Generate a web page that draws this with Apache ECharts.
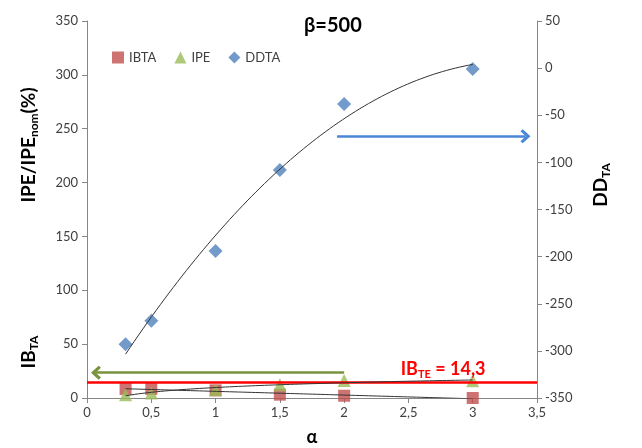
<!DOCTYPE html>
<html>
<head>
<meta charset="utf-8">
<script src="https://cdn.jsdelivr.net/npm/echarts@6/dist/echarts.min.js"></script>
<style>
  html, body { margin: 0; padding: 0; background: #fff; }
  #chart { width: 642px; height: 448px; }
</style>
</head>
<body>
<div id="chart"></div>
<script>
// data
const alpha = [0.3, 0.5, 1, 1.5, 2, 3];
const ibta = [8.4, 8.4, 7.1, 3.1, 2.1, 0];
const ipe = [3.1, 4.6, 7.7, 12.4, 16.3, 16.1];
const ddta = [-293, -268, -194, -108, -38, -1];
const ibte = 14.3;
const xTicks = [0, 0.5, 1, 1.5, 2, 2.5, 3, 3.5];

const FONT = "Lato, 'Open Sans', sans-serif";
const colors = ["#C0504D", "#9BBB59", "#4F81BD"];

// excel-like trendlines, fitted from the data above
function linFit(xs, ys) {
  const n = xs.length;
  const mx = xs.reduce((a, b) => a + b, 0) / n;
  const my = ys.reduce((a, b) => a + b, 0) / n;
  let sxy = 0, sxx = 0;
  for (let i = 0; i < n; i++) {
    sxy += (xs[i] - mx) * (ys[i] - my);
    sxx += (xs[i] - mx) * (xs[i] - mx);
  }
  const b = sxy / sxx;
  return [my - b * mx, b];
}
function quadFit(xs, ys) {
  // normal equations for y = c0 + c1 x + c2 x^2
  const s = [0, 0, 0, 0, 0], t = [0, 0, 0];
  for (let i = 0; i < xs.length; i++) {
    for (let k = 0; k < 5; k++) s[k] += Math.pow(xs[i], k);
    for (let k = 0; k < 3; k++) t[k] += ys[i] * Math.pow(xs[i], k);
  }
  const m = [
    [s[0], s[1], s[2], t[0]],
    [s[1], s[2], s[3], t[1]],
    [s[2], s[3], s[4], t[2]]
  ];
  for (let c = 0; c < 3; c++) {
    for (let r = c + 1; r < 3; r++) {
      const f = m[r][c] / m[c][c];
      for (let k = c; k < 4; k++) m[r][k] -= f * m[c][k];
    }
  }
  const c = [0, 0, 0];
  for (let r = 2; r >= 0; r--) {
    let v = m[r][3];
    for (let k = r + 1; k < 3; k++) v -= m[r][k] * c[k];
    c[r] = v / m[r][r];
  }
  return c;
}
function sample(fn) {
  const lo = Math.min(...alpha), hi = Math.max(...alpha);
  const out = [];
  for (let i = 0; i <= 80; i++) {
    const x = lo + (hi - lo) * i / 80;
    out.push([x, fn(x)]);
  }
  return out;
}
const fIb = linFit(alpha, ibta);
const fIpe = linFit(alpha.map(Math.log), ipe);
const fDd = quadFit(alpha, ddta);
const trendIb = sample(x => fIb[0] + fIb[1] * x);
const trendIpe = sample(x => fIpe[0] + fIpe[1] * Math.log(x));
const trendDd = sample(x => fDd[0] + fDd[1] * x + fDd[2] * x * x);

const pts = ys => alpha.map((x, i) => [x, ys[i]]);

// open chevron pointing up, used as arrow head
const chevron = "path://M10,0 L20,10 L17,13 L10,6 L3,13 L0,10 Z";

const chart = echarts.init(document.getElementById("chart"));

const axisCommon = {
  axisLine: { show: true, lineStyle: { color: "#868686", width: 1 } },
  axisTick: { show: true, inside: false, length: 5, lineStyle: { color: "#868686" } },
  axisLabel: { color: "#404040", fontSize: 13, fontFamily: FONT },
  splitLine: { show: false }
};

const subRich = {
  a: { fontSize: 19, fontWeight: "bold", fontFamily: FONT, color: "#000", lineHeight: 22 },
  s: { fontSize: 12, fontWeight: "bold", fontFamily: FONT, color: "#000", lineHeight: 7, verticalAlign: "bottom" }
};

const option = {
  animation: false,
  textStyle: { fontFamily: FONT },
  title: {
    text: "β=500",
    left: 299,
    top: 11,
    textStyle: { fontSize: 20, fontWeight: "bold", color: "#000", fontFamily: FONT }
  },
  legend: {
    data: [
      { name: "IBTA", icon: "rect" },
      { name: "IPE", icon: "triangle" },
      { name: "DDTA", icon: "diamond" }
    ],
    left: 107,
    top: 46,
    itemWidth: 12,
    itemHeight: 12,
    itemGap: 18,
    textStyle: { color: "#404040", fontSize: 13, fontFamily: FONT }
  },
  grid: { left: 87, right: 105, top: 21, bottom: 50, outerBoundsMode: "none", containLabel: false },
  xAxis: Object.assign({}, axisCommon, {
    type: "value",
    min: 0,
    max: 3.5,
    interval: 0.5,
    axisLabel: Object.assign({}, axisCommon.axisLabel, {
      margin: 8,
      formatter: v => (xTicks.indexOf(v) >= 0 ? String(v).replace(".", ",") : "")
    }),
    name: "α",
    nameLocation: "middle",
    nameGap: 30,
    nameTextStyle: { fontSize: 18, fontWeight: "bold", color: "#000", fontFamily: FONT }
  }),
  yAxis: [
    Object.assign({}, axisCommon, {
      type: "value",
      min: 0,
      max: 350,
      interval: 50,
      axisLabel: Object.assign({}, axisCommon.axisLabel, { margin: 9 })
    }),
    Object.assign({}, axisCommon, {
      type: "value",
      position: "right",
      min: -350,
      max: 50,
      interval: 50,
      axisLabel: Object.assign({}, axisCommon.axisLabel, { margin: 8 })
    })
  ],
  graphic: [
    {
      type: "text",
      x: 29, y: 145,
      rotation: Math.PI / 2,
      style: {
        text: "{a|IPE/IPE}{s|nom}{a|(%)}",
        rich: subRich,
        align: "center",
        verticalAlign: "middle"
      }
    },
    {
      type: "text",
      x: 29, y: 352,
      rotation: Math.PI / 2,
      style: {
        text: "{a|IB}{s|TA}",
        rich: subRich,
        align: "center",
        verticalAlign: "middle"
      }
    },
    {
      type: "text",
      x: 601, y: 185,
      rotation: Math.PI / 2,
      style: {
        text: "{a|DD}{s|TA}",
        rich: subRich,
        align: "center",
        verticalAlign: "middle"
      }
    }
  ],
  series: [
    {
      name: "IBTA",
      type: "scatter",
      symbol: "rect",
      symbolSize: 12,
      itemStyle: { color: colors[0] },
      data: pts(ibta),
      z: 3,
      markLine: {
        silent: true,
        symbol: "none",
        label: { show: false },
        lineStyle: { color: "#FF0000", width: 2.5, type: "solid" },
        data: [{ yAxis: ibte }],
        z: 4
      },
      markPoint: {
        silent: true,
        symbol: "circle",
        symbolSize: 2,
        itemStyle: { color: "rgba(0,0,0,0)" },
        label: {
          show: true,
          position: "top",
          distance: 2,
          formatter: "{a|IB}{s|TE}{a| = 14,3}",
          rich: {
            a: { fontSize: 18, fontWeight: "bold", fontFamily: FONT, color: "#FF0000", lineHeight: 21 },
            s: { fontSize: 11, fontWeight: "bold", fontFamily: FONT, color: "#FF0000", lineHeight: 6, verticalAlign: "bottom" }
          }
        },
        data: [{ name: "IBTE", coord: [2.77, ibte], value: ibte }]
      }
    },
    {
      name: "IPE",
      type: "scatter",
      symbol: "triangle",
      symbolSize: 13,
      itemStyle: { color: colors[1] },
      data: pts(ipe),
      z: 3,
      markLine: {
        silent: true,
        symbol: ["none", chevron],
        symbolSize: [14, 10],
        label: { show: false },
        data: [
          [
            { coord: [2, 23.5], lineStyle: { color: "#77933C", width: 2.5, type: "solid" }, itemStyle: { color: "#77933C" } },
            { coord: [0.07, 23.5] }
          ],
          [
            { coord: [1.945, 243], lineStyle: { color: "#4A86D6", width: 2.5, type: "solid" }, itemStyle: { color: "#4A86D6" } },
            { coord: [3.41, 243] }
          ]
        ]
      }
    },
    {
      name: "DDTA",
      type: "scatter",
      symbol: "diamond",
      symbolSize: 14,
      yAxisIndex: 1,
      itemStyle: { color: colors[2] },
      data: pts(ddta),
      z: 3
    },
    {
      name: "IBTA trend",
      type: "line",
      showSymbol: false,
      symbol: "none",
      clip: true,
      lineStyle: { color: "#333", width: 1 },
      data: trendIb,
      z: 5
    },
    {
      name: "IPE trend",
      type: "line",
      showSymbol: false,
      symbol: "none",
      lineStyle: { color: "#333", width: 1 },
      data: trendIpe,
      z: 5
    },
    {
      name: "DDTA trend",
      type: "line",
      showSymbol: false,
      symbol: "none",
      yAxisIndex: 1,
      lineStyle: { color: "#333", width: 1 },
      data: trendDd,
      z: 5
    }
  ]
};

chart.setOption(option);
window.addEventListener("resize", () => {
  chart && chart.resize();
});
</script>
</body>
</html>
